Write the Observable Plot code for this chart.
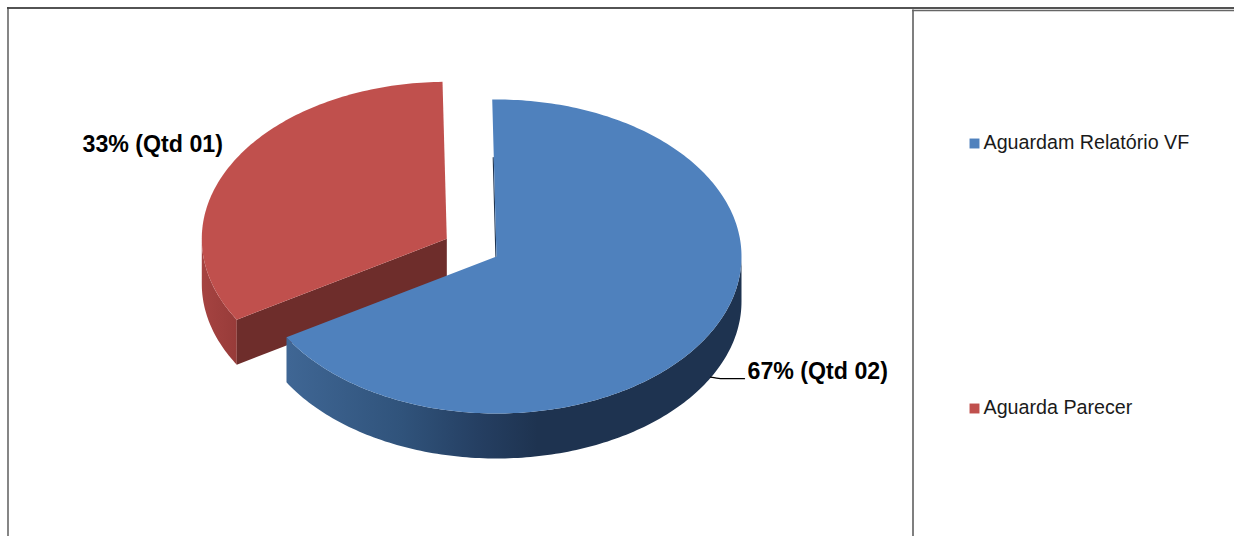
<!DOCTYPE html>
<html lang="pt">
<head>
<meta charset="utf-8">
<title>Situação dos processos</title>
<script src="https://cdn.jsdelivr.net/npm/d3@7"></script>
<script src="https://cdn.jsdelivr.net/npm/@observablehq/plot@0.6"></script>
<style>
  html, body { margin: 0; padding: 0; background: #fff; }
  svg { display: block; }
</style>
</head>
<body>
<div id="chart"></div>
<script>
// Status of the cases: how many fall into each category.
const categories = ["Aguardam Relatório VF", "Aguarda Parecer"];
const quantities = [2, 1];
const topColors = ["#4f81bd", "#c0504d"];

// Pie geometry in page pixels.
const W = 1234, H = 536;
const center = {x: 496, y: 256};
const radiusX = 245, radiusY = 157;
const depth = 45;
const explode = [0, 0.232];
const rotation = -1 * Math.PI / 180;

const total = d3.sum(quantities);
const arcs = d3.pie().sort(null).startAngle(rotation).endAngle(rotation + 2 * Math.PI)(quantities);

// Centre of each slice once its explosion has pushed it out along its bisector.
const sliceCenter = arcs.map((a, i) => {
  const mid = (a.startAngle + a.endAngle) / 2;
  return {
    x: center.x + explode[i] * radiusX * Math.sin(mid),
    y: center.y - explode[i] * radiusY * Math.cos(mid)
  };
});

const rimPoint = (c, t, drop = 0) => ({
  x: c.x + radiusX * Math.sin(t),
  y: c.y - radiusY * Math.cos(t) + drop
});

const rim = (c, from, to, drop = 0) => {
  const n = Math.max(2, Math.ceil(Math.abs(to - from) * 180 / Math.PI));
  return d3.range(n + 1).map(k => rimPoint(c, from + (to - from) * k / n, drop));
};

// Closed polygons for the faces of each slice.
const topFace = i => [sliceCenter[i], ...rim(sliceCenter[i], arcs[i].startAngle, arcs[i].endAngle)];
const outerWall = (i, from, to) => [
  ...rim(sliceCenter[i], from, to),
  ...rim(sliceCenter[i], to, from, depth)
];

const face = (points, fill) =>
  Plot.line(points, {x: "x", y: "y", fill, stroke: "none", curve: "linear-closed"});

// Side shading runs along the page's x axis.
const gradients = () => {
  const defs = d3.create("svg:defs");
  const add = (id, x1, x2, stops) => {
    const g = defs.append("linearGradient")
      .attr("id", id)
      .attr("gradientUnits", "userSpaceOnUse")
      .attr("x1", x1).attr("x2", x2).attr("y1", 0).attr("y2", 0);
    stops.forEach(([o, c]) => g.append("stop").attr("offset", o).attr("stop-color", c));
  };
  add("wall-blue", 288, 741, [[0, "#3f6694"], [0.25, "#30537b"], [0.42, "#253f62"], [0.55, "#1e3350"], [1, "#1e3350"]]);
  add("wall-red", 202, 237, [[0, "#a54341"], [1, "#973b39"]]);
  return defs.node();
};

const pct = d3.format(".0%");
const qtd = d3.format("02d");
const valueLabels = quantities.map(q => `${pct(q / total)} (Qtd ${qtd(q)})`);

const [blue, red] = [0, 1];
const redTip = rimPoint(sliceCenter[red], arcs[red].startAngle);
const blueStart = rimPoint(sliceCenter[blue], arcs[blue].startAngle);

// Legend rows and value labels, anchored in page pixels.
const legendRows = categories.map((name, i) => ({
  name, color: topColors[i], y: [143, 408][i], textY: [142, 407][i]
}));
const labelRows = [
  {text: valueLabels[1], x: 82, y: 144},
  {text: valueLabels[0], x: 747, y: 371.5}
];
const leader = [{x: 710, y: 376.6}, {x: 716, y: 377.6}, {x: 723, y: 378.2}, {x: 744, y: 378.2}];

const chart = Plot.plot({
  width: W,
  height: H,
  margin: 0,
  style: {background: "#fff", fontFamily: "'Liberation Sans', Arial, sans-serif"},
  x: {domain: [0, W], range: [0, W], axis: null},
  y: {domain: [0, H], range: [0, H], axis: null},
  marks: [
    gradients,

    // Chart frame and legend box
    Plot.ruleY([7.5], {x1: 7, x2: W, stroke: "#1a1a1a", strokeWidth: 1.3}),
    Plot.ruleX([7.5], {y1: 7, y2: H, stroke: "#444", strokeWidth: 1.3}),
    Plot.ruleX([912.5], {y1: 9.5, y2: H, stroke: "#555", strokeWidth: 1.5}),
    Plot.ruleY([10], {x1: 912, x2: W, stroke: "#666", strokeWidth: 1.3}),

    // Exploded red slice
    face(outerWall(red, arcs[red].startAngle, 1.5 * Math.PI), "url(#wall-red)"),
    face([
      sliceCenter[red],
      redTip,
      {x: redTip.x, y: redTip.y + depth},
      {x: sliceCenter[red].x, y: sliceCenter[red].y + depth}
    ], "#6e2d2b"),
    face(topFace(red), topColors[1]),

    // Blue slice; its back cut shows only as a thin dark edge
    face(outerWall(blue, 0.5 * Math.PI, arcs[blue].endAngle), "url(#wall-blue)"),
    Plot.line([
      {x: sliceCenter[blue].x - 0.6, y: sliceCenter[blue].y},
      {x: d3.interpolate(sliceCenter[blue].x, blueStart.x)(0.63) - 0.6, y: d3.interpolate(sliceCenter[blue].y, blueStart.y)(0.63)}
    ], {x: "x", y: "y", stroke: "#1f3552", strokeWidth: 1.1}),
    face(topFace(blue), topColors[0]),

    // Leader for the blue slice's label
    Plot.line(leader, {x: "x", y: "y", stroke: "#000", strokeWidth: 1.3, curve: "monotone-x"}),

    // Value labels
    Plot.text(labelRows, {
      x: "x", y: "y", text: "text", textAnchor: "start", lineAnchor: "middle",
      fontSize: 23.2, fontWeight: "bold", fill: "#000"
    }),

    // Legend
    Plot.dot(legendRows, {x: 974, y: "y", symbol: "square", r: 5.6, fill: "color", stroke: "none"}),
    Plot.text(legendRows, {
      x: 983, y: "textY", text: "name", textAnchor: "start", lineAnchor: "middle",
      fontSize: 19.7, fill: "#1a1a1a"
    })
  ]
});

document.getElementById("chart").append(chart);
</script>
</body>
</html>
